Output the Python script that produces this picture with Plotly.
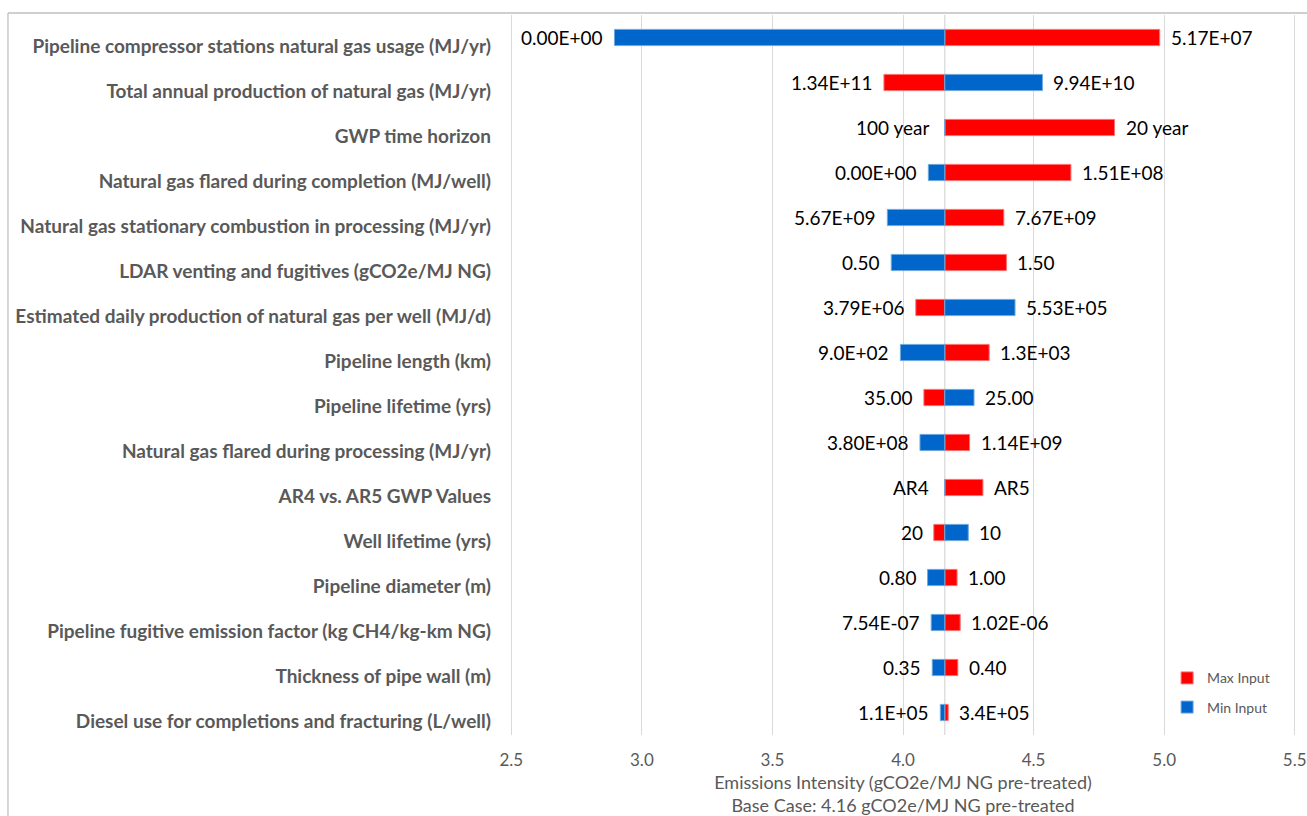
import plotly.graph_objects as go

BASE = 4.16

categories = [
    "Pipeline compressor stations natural gas usage (MJ/yr)",
    "Total annual production of natural gas (MJ/yr)",
    "GWP time horizon",
    "Natural gas flared during completion (MJ/well)",
    "Natural gas stationary combustion in processing (MJ/yr)",
    "LDAR venting and fugitives (gCO2e/MJ NG)",
    "Estimated daily production of natural gas per well (MJ/d)",
    "Pipeline length (km)",
    "Pipeline lifetime (yrs)",
    "Natural gas flared during processing (MJ/yr)",
    "AR4 vs. AR5 GWP Values",
    "Well lifetime (yrs)",
    "Pipeline diameter (m)",
    "Pipeline fugitive emission factor (kg CH4/kg-km NG)",
    "Thickness of pipe wall (m)",
    "Diesel use for completions and fracturing (L/well)",
]

# Emissions intensity (gCO2e/MJ NG pre-treated) at min / max input
min_values = [2.895, 4.534, 4.16, 4.097, 3.940, 3.955, 4.429, 3.990,
              4.272, 4.065, 4.16, 4.250, 4.094, 4.108, 4.112, 4.143]
max_values = [4.983, 3.927, 4.810, 4.643, 4.386, 4.396, 4.049, 4.330,
              4.080, 4.255, 4.306, 4.118, 4.207, 4.219, 4.210, 4.173]

min_labels = ["0.00E+00", "9.94E+10", "100 year", "0.00E+00", "5.67E+09", "0.50",
              "5.53E+05", "9.0E+02", "25.00", "3.80E+08", "AR4", "10", "0.80",
              "7.54E-07", "0.35", "1.1E+05"]
max_labels = ["5.17E+07", "1.34E+11", "20 year", "1.51E+08", "7.67E+09", "1.50",
              "3.79E+06", "1.3E+03", "35.00", "1.14E+09", "AR5", "20", "1.00",
              "1.02E-06", "0.40", "3.4E+05"]

x_ticks = [2.5, 3.0, 3.5, 4.0, 4.5, 5.0, 5.5]

RED = "#FF0000"
BLUE = "#0066CC"
GRID = "#D9D9D9"
GRAY_TXT = "#595959"
FONT = "Lato"

fig = go.Figure()
fig.add_trace(go.Bar(
    name="Max Input", orientation="h", y=categories,
    x=[v - BASE for v in max_values], base=BASE, width=0.36,
    marker=dict(color=RED, line=dict(color="#FF7070", width=1)),
    legendgroup="max", hoverinfo="skip",
))
fig.add_trace(go.Bar(
    name="Min Input", orientation="h", y=categories,
    x=[v - BASE for v in min_values], base=BASE, width=0.36,
    marker=dict(color=BLUE, line=dict(color="#6FA8DC", width=1)),
    legendgroup="min", hoverinfo="skip",
))

annotations = []
for cat, mn, mx, lmn, lmx in zip(categories, min_values, max_values, min_labels, max_labels):
    for val, other, lab in ((mn, mx, lmn), (mx, mn, lmx)):
        left = val < BASE or (val == BASE and other > BASE)
        zero_len = val == BASE
        shift = 14 if zero_len else 9
        annotations.append(dict(
            x=val, y=cat, xref="x", yref="y", text=lab, showarrow=False,
            xanchor="right" if left else "left", xshift=-shift if left else shift,
            font=dict(family=FONT, size=19, color="#000000"),
        ))

shapes = [
    dict(type="line", xref="x", yref="paper", x0=BASE, x1=BASE, y0=0, y1=1,
         line=dict(color=GRID, width=1.3), layer="below"),
    dict(type="line", xref="paper", yref="paper", x0=-0.6387, x1=1.1, y0=1.0028, y1=1.0028,
         line=dict(color="#BFBFBF", width=1.3)),
    dict(type="line", xref="paper", yref="paper", x0=-0.6387, x1=-0.6387, y0=-0.2, y1=1.0028,
         line=dict(color="#BFBFBF", width=1.3)),
]

fig.update_layout(
    width=1307, height=816,
    margin=dict(l=510, r=11, t=15, b=81, autoexpand=False),
    paper_bgcolor="white", plot_bgcolor="white",
    barmode="overlay",
    font=dict(family=FONT, color=GRAY_TXT),
    annotations=annotations,
    shapes=shapes,
    legend=dict(
        x=0.836, y=0.101, xanchor="left", yanchor="top",
        traceorder="grouped", tracegroupgap=8,
        font=dict(family=FONT, size=14, color=GRAY_TXT),
        bgcolor="rgba(0,0,0,0)",
    ),
)
fig.update_xaxes(
    range=[2.495, 5.505], tickvals=x_ticks, ticktext=[f"{t:.1f}" for t in x_ticks],
    showgrid=True, gridcolor=GRID, gridwidth=1.3, zeroline=False, showline=False,
    ticks="", ticklabelstandoff=13, ticklabeloverflow="allow", automargin=False,
    tickfont=dict(family=FONT, size=17, color=GRAY_TXT),
    title=dict(text="Emissions Intensity (gCO2e/MJ NG pre-treated)<br>Base Case: 4.16 gCO2e/MJ NG pre-treated",
               font=dict(family=FONT, size=18, color=GRAY_TXT), standoff=8),
)
fig.update_yaxes(
    type="category", categoryorder="array", categoryarray=categories,
    autorange="reversed", showgrid=False, zeroline=False, showline=False, ticks="",
    automargin=False,
    tickfont=dict(family=FONT, size=19, color=GRAY_TXT, weight="bold"),
    ticklabelshift=-9, ticklabelstandoff=18,
)

fig.write_html("out.html")
